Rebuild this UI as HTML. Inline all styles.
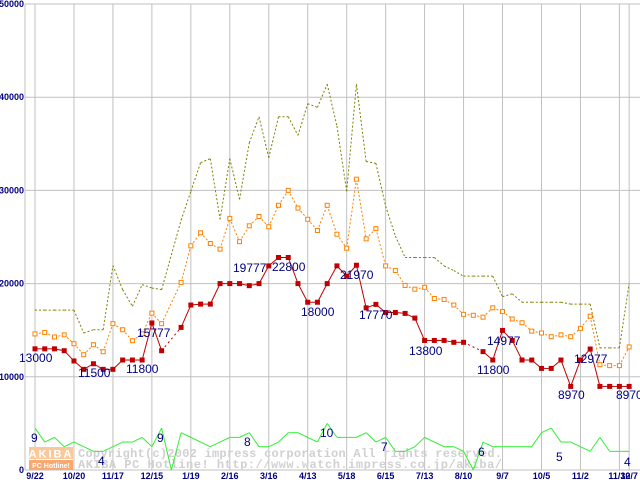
<!DOCTYPE html>
<html><head><meta charset="utf-8"><style>
html,body{margin:0;padding:0;background:#fff;}
svg{display:block;font-family:"Liberation Sans",sans-serif;}
</style></head><body>
<svg id="chart" width="640" height="480" viewBox="0 0 640 480" xmlns="http://www.w3.org/2000/svg">
<g id="grid"></g>
<g id="watermark">
<rect x="29" y="447" width="44" height="12" fill="#fbc89a"/>
<rect x="29" y="460" width="44" height="10" fill="#f8a870"/>
<text x="51" y="457.5" font-size="11" font-weight="bold" fill="#fff" text-anchor="middle" letter-spacing="2">AKIBA</text>
<text x="51" y="468" font-size="7" font-weight="bold" fill="#fff" text-anchor="middle">PC Hotline!</text>
<text x="78" y="457" font-size="12" font-weight="bold" fill="#d0d0d0" font-family="Liberation Mono, monospace" textLength="424" lengthAdjust="spacing">Copyright(c)2002 impress corporation All rights reserved.</text>
<text x="78" y="468" font-size="12" font-weight="bold" fill="#d0d0d0" font-family="Liberation Mono, monospace" textLength="424" lengthAdjust="spacing">AKIBA PC Hotline!  http://www.watch.impress.co.jp/akiba/</text>
</g>
<g id="series"></g>
<g id="labels" font-size="12" fill="#000080">
<text x="19" y="362">13000</text>
<text x="78" y="377">11500</text>
<text x="126" y="373">11800</text>
<text x="137" y="337">15777</text>
<text x="233" y="272">19777</text>
<text x="272" y="271">22800</text>
<text x="301" y="316">18000</text>
<text x="340" y="279">21970</text>
<text x="359" y="319">17770</text>
<text x="409" y="355">13800</text>
<text x="477" y="374">11800</text>
<text x="487" y="345">14977</text>
<text x="558" y="399">8970</text>
<text x="574" y="363">12977</text>
<text x="616" y="399">8970</text>
<text x="31" y="442">9</text>
<text x="98" y="465">4</text>
<text x="157" y="442">9</text>
<text x="244" y="446">8</text>
<text x="320" y="437">10</text>
<text x="381" y="451">7</text>
<text x="478" y="456">6</text>
<text x="556" y="461">5</text>
<text x="624" y="466">4</text>
</g>
</svg>
<script>
const xLabels=["9/22","10/20","11/17","12/15","1/19","2/16","3/16","4/13","5/18","6/15","7/13","8/10","9/7","10/5","11/2","11/30","12/7"];
const yTicks=[0,10000,20000,30000,40000,50000];
const minPrice=[13000,13000,13000,12800,11700,10800,11400,10800,10800,11800,11800,11800,15777,12800,null,15300,17700,17800,17800,20000,20000,20000,19777,20000,21900,22800,22800,20000,18000,18000,20000,21900,20800,21970,17400,17770,16900,16900,16800,16300,13900,13900,13900,13700,13700,null,12700,11800,14977,13900,11800,11800,10900,10900,11800,8970,11800,12977,8970,8970,8970,8970];
const avgPrice=[14600,14750,14270,14500,13550,12370,13440,12690,15700,15050,13870,14620,16830,15700,null,20130,24050,25450,24300,23700,27000,24500,26200,27200,26100,28400,30000,28100,26900,25700,28400,25300,23800,31200,24800,25900,21900,21400,19800,19400,19600,18400,18300,17700,16700,16600,16400,17400,17000,16200,15800,14900,14700,14300,14500,14300,15200,16500,11300,11200,11200,13200];
const maxPrice=[17150,17150,17150,17150,17150,14700,15050,15050,21940,19350,17560,19890,19530,19350,null,26800,29900,32980,33400,26880,33400,29030,35100,37900,33500,37900,37900,35900,39300,38900,41400,36900,29900,41400,33100,32900,28300,25100,22800,22800,22800,22800,21900,21400,20800,20800,20800,20800,18600,18900,18000,18000,18000,18000,18000,17800,17800,17800,13100,13100,13100,20000];
const shopCount=[9,6,7,5,6,5,4,4,5,6,6,7,5,9,0,8,7,6,5,6,7,7,8,5,5,6,8,8,7,6,10,7,7,7,8,6,7,4,4,5,7,6,5,5,4,0,6,5,5,5,5,5,8,9,6,6,5,4,7,4,4,4];

const NS="http://www.w3.org/2000/svg";
const X0=35,STEP=9.74,Y0=470,YMAX=50000,TOP=4,LEFT=25;
function xs(i){return X0+STEP*i;}
function ys(v){return Y0-(v/YMAX)*(Y0-TOP);}
function mk(tag,attrs,parent){const e=document.createElementNS(NS,tag);for(const k in attrs)e.setAttribute(k,attrs[k]);parent.appendChild(e);return e;}
const grid=document.getElementById('grid');
const ser=document.getElementById('series');

yTicks.forEach(function(t){
  const l=mk('line',{x1:LEFT,x2:640,y1:ys(t),y2:ys(t),stroke:'#c0c0c0','stroke-width':1},grid);
  
  
  const tx=mk('text',{x:LEFT-1,y:ys(t)+3,'text-anchor':'end','font-size':9,'font-weight':'bold',fill:'#000080'},grid);
  tx.textContent=String(t);
  
  
});
const ax=mk('line',{x1:LEFT,x2:LEFT,y1:TOP,y2:Y0,stroke:'#c0c0c0'},grid);


xLabels.forEach(function(lab,k){
  const i=(k===xLabels.length-1)?minPrice.length-1:k*4;
  const l=mk('line',{x1:xs(i),x2:xs(i),y1:TOP,y2:Y0,stroke:'#c0c0c0'},grid);
  
  
  const tx=mk('text',{x:xs(i),y:479,'text-anchor':'middle','font-size':9,'font-weight':'bold',fill:'#000080'},grid);
  tx.textContent=lab;
  
  
});

function drawLine(arr,scale,color,dash,name,gapDash){
  let prev=null;
  for(let i=0;i<arr.length;i++){
    if(arr[i]===null)continue;
    if(prev!==null){
      const gap=(i-prev)>1;
      const a={x1:xs(prev),y1:ys(arr[prev]*scale),x2:xs(i),y2:ys(arr[i]*scale),stroke:color,'stroke-width':1};
      if(dash)a['stroke-dasharray']=dash;else if(gap&&gapDash)a['stroke-dasharray']=gapDash;
      const l=mk('line',a,ser);
      
      
    }
    prev=i;
  }
}
function drawMarkers(arr,color,fill,name){
  arr.forEach(function(v,i){
    if(v===null)return;
    const r=mk('rect',{x:xs(i)-2,y:ys(v)-2,width:4,height:4,fill:fill,stroke:color,'stroke-width':1},ser);
    
    
  });
}
drawLine(maxPrice,1,'#808000','2,2','max-price');
drawLine(avgPrice,1,'#ff8000','2,2','avg-price');
drawMarkers(avgPrice,'#ff8000','#fff','avg-price');
drawLine(minPrice,1,'#c00000',null,'min-price','2,3');
drawMarkers(minPrice,'#c00000','#c00000','min-price');
drawLine(shopCount,500,'#33ee33',null,'shop-count');
</script>
</body></html>
